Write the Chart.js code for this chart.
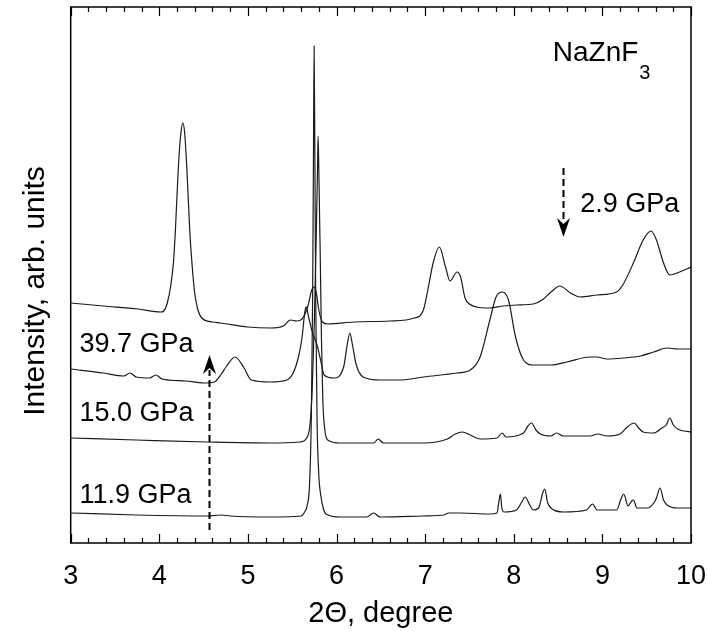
<!DOCTYPE html>
<html>
<head>
<meta charset="utf-8">
<script src="https://cdn.jsdelivr.net/npm/chart.js@4"></script>
<style>
  html, body { margin: 0; padding: 0; background: #fff; }
  canvas { display: block; }
</style>
</head>
<body>
<canvas id="xrd-chart" width="707" height="631"></canvas>
<script>
// 2.9 GPa (top pattern)
const theta29 = [3.00, 3.37, 3.76, 4.02, 4.05, 4.09, 4.13, 4.16, 4.18, 4.215, 4.245, 4.265, 4.285, 4.31, 4.345, 4.37, 4.395, 4.43, 4.48, 4.60,
  4.69, 5.00, 5.26, 5.40, 5.48, 5.55, 5.62, 5.68, 5.72, 5.745, 5.77, 5.80, 5.84, 5.90, 6.20, 6.60, 6.88, 6.98, 7.03, 7.09,
  7.16, 7.23, 7.28, 7.36, 7.40, 7.45, 7.50, 7.58, 7.73, 7.88, 8.03, 8.22, 8.32, 8.42, 8.52, 8.64, 8.75, 8.94, 9.16, 9.23,
  9.35, 9.46, 9.55, 9.61, 9.69, 9.76, 9.87, 10.0];
const int29 = [240, 237, 234, 231, 232, 240, 258, 281, 310, 376, 411, 420, 411, 376, 310, 278, 253, 235, 225, 221,
  220, 216, 215, 217, 223, 222, 225, 238, 253, 256, 251, 233, 221, 219, 221, 222, 225, 233, 253, 280,
  296, 276, 262, 271, 266, 245, 239, 236, 235, 237, 238, 239, 243, 251, 257, 250, 246, 248, 251, 258,
  280, 303, 312, 303, 280, 268, 271, 276];

// 39.7 GPa
const theta397 = [3.00, 3.37, 3.60, 3.67, 3.74, 3.89, 3.96, 4.03, 4.30, 4.50, 4.62, 4.70, 4.76, 4.855, 4.95, 5.04, 5.25, 5.44, 5.51, 5.57,
  5.61, 5.645, 5.66, 5.68, 5.72, 5.78, 5.82, 5.86, 5.97, 6.08, 6.12, 6.15, 6.18, 6.22, 6.30, 6.49, 6.72, 6.98, 7.36, 7.51,
  7.62, 7.73, 7.80, 7.87, 7.94, 8.02, 8.11, 8.22, 8.42, 8.60, 8.86, 8.94, 9.05, 9.24, 9.43, 9.58, 9.73, 9.85, 10.0];
const int397 = [174, 170, 167, 170, 166, 165, 168, 164, 162, 160, 161, 169, 177, 186, 176, 163, 161, 163, 170, 186,
  205, 233, 236, 228, 213, 198, 183, 168, 165, 176, 198, 210, 198, 179, 166, 163, 163, 166, 170, 173,
  186, 223, 246, 251, 243, 206, 183, 178, 178, 181, 186, 186, 184, 185, 187, 191, 195, 194, 194];

// 15.0 GPa
const theta150 = [3.00, 3.74, 4.54, 5.25, 5.59, 5.67, 5.70, 5.725, 5.75, 5.77, 5.785, 5.792, 5.80, 5.815, 5.83, 5.845, 5.865, 5.90, 6.04, 6.42,
  6.47, 6.53, 6.98, 7.25, 7.34, 7.42, 7.51, 7.62, 7.81, 7.87, 7.91, 8.11, 8.16, 8.20, 8.25, 8.30, 8.42, 8.48, 8.56, 8.86,
  8.95, 9.05, 9.20, 9.28, 9.36, 9.41, 9.46, 9.58, 9.67, 9.72, 9.76, 9.80, 9.85, 9.92, 10.0];
const int150 = [105, 103, 101, 100, 101, 106, 118, 153, 223, 303, 373, 407, 373, 293, 203, 143, 115, 103, 100, 100,
  104, 100, 100, 104, 109, 111, 108, 104, 105, 110, 106, 110, 117, 120, 113, 109, 107, 110, 107, 107,
  109, 107, 109, 116, 120, 115, 111, 110, 115, 118, 125, 118, 114, 112, 111];

// 11.9 GPa (bottom pattern)
const theta119 = [3.00, 3.74, 4.54, 4.70, 4.80, 5.25, 5.60, 5.64, 5.67, 5.695, 5.715, 5.73, 5.74, 5.747, 5.755, 5.765, 5.78, 5.80, 5.825, 5.85,
  5.88, 6.04, 6.34, 6.42, 6.49, 6.98, 7.21, 7.27, 7.40, 7.73, 7.81, 7.835, 7.85, 7.865, 7.89, 8.03, 8.09, 8.13, 8.18, 8.22,
  8.28, 8.33, 8.35, 8.38, 8.42, 8.56, 8.82, 8.89, 8.94, 9.16, 9.21, 9.24, 9.29, 9.33, 9.35, 9.39, 9.51, 9.58, 9.61, 9.65,
  9.69, 9.73, 9.85, 10.0];
const int119 = [30, 28, 27, 28, 27, 26, 27, 31, 38, 58, 123, 243, 393, 497, 393, 243, 123, 68, 46, 35,
  29, 26, 26, 30, 26, 27, 28, 30, 30, 29, 30, 43, 49, 35, 31, 33, 41, 46, 38, 33,
  35, 51, 54, 41, 35, 31, 33, 39, 33, 33, 44, 49, 37, 42, 43, 35, 35, 40, 45, 55,
  43, 38, 35, 35];

const xTicks = [3, 4, 5, 6, 7, 8, 9, 10];
const FONT = "Arial, 'Liberation Sans', sans-serif";

function toPoints(xs, ys) {
  return xs.map((v, i) => ({ x: v, y: ys[i] }));
}

function makeSet(name, xs, ys) {
  return {
    label: name,
    data: toPoints(xs, ys),
    borderColor: "#1a1a1a",
    borderWidth: 1.2,
    pointRadius: 0,
    fill: false,
    cubicInterpolationMode: "monotone",
  };
}

function drawArrow(ctx, px, yFrom, yTip) {
  const dir = yTip < yFrom ? -1 : 1;
  const headLen = 19;
  const cx = Math.round(px) + 0.5;
  ctx.save();
  ctx.strokeStyle = "#000";
  ctx.lineWidth = 2;
  ctx.setLineDash([7, 4]);
  ctx.beginPath();
  ctx.moveTo(cx, yFrom);
  ctx.lineTo(cx, yTip - dir * (headLen - 4));
  ctx.stroke();
  ctx.setLineDash([]);
  ctx.beginPath();
  ctx.moveTo(cx, yTip);
  ctx.lineTo(cx - 6.5, yTip - dir * headLen);
  ctx.lineTo(cx, yTip - dir * (headLen - 6));
  ctx.lineTo(cx + 6.5, yTip - dir * headLen);
  ctx.closePath();
  ctx.fill();
  ctx.restore();
}

// frame, inward ticks, y title, labels and dashed arrows
const decorations = {
  id: "decorations",
  afterDraw(chart) {
    const { ctx, chartArea: a } = chart;
    const x = chart.scales.x;
    const y = chart.scales.y;
    ctx.save();
    ctx.strokeStyle = "#000";
    ctx.lineWidth = 1.5;
    ctx.strokeRect(a.left, a.top, a.right - a.left, a.bottom - a.top);

    ctx.lineWidth = 1.2;
    for (let i = 0; i <= 35; i++) {
      const px = Math.round(x.getPixelForValue(3 + i * 0.2)) + 0.5;
      const len = i % 5 === 0 ? 9 : 5;
      ctx.beginPath();
      ctx.moveTo(px, a.bottom);
      ctx.lineTo(px, a.bottom - len);
      ctx.moveTo(px, a.top);
      ctx.lineTo(px, a.top + len);
      ctx.stroke();
    }

    ctx.fillStyle = "#000";

    // y axis title
    ctx.save();
    ctx.translate(44, 291);
    ctx.rotate(-Math.PI / 2);
    ctx.textAlign = "center";
    ctx.textBaseline = "alphabetic";
    ctx.font = "30px " + FONT;
    ctx.fillText("Intensity, arb. units", 0, 0);
    ctx.restore();

    ctx.textBaseline = "middle";
    ctx.textAlign = "left";
    ctx.font = "27px " + FONT;
    ctx.fillText("39.7 GPa", x.getPixelForValue(3.1), y.getPixelForValue(198));
    ctx.fillText("15.0 GPa", x.getPixelForValue(3.1), y.getPixelForValue(129));
    ctx.fillText("11.9 GPa", x.getPixelForValue(3.1), y.getPixelForValue(47));
    ctx.fillText("2.9 GPa", x.getPixelForValue(8.75), y.getPixelForValue(338));
    ctx.font = "28px " + FONT;
    const nx = x.getPixelForValue(8.44);
    ctx.fillText("NaZnF", nx, y.getPixelForValue(490));
    const w = ctx.measureText("NaZnF").width;
    ctx.font = "20px " + FONT;
    ctx.fillText("3", nx + w + 1, y.getPixelForValue(470));

    drawArrow(ctx, x.getPixelForValue(4.565), y.getPixelForValue(13), y.getPixelForValue(188));
    drawArrow(ctx, x.getPixelForValue(8.55), y.getPixelForValue(375), y.getPixelForValue(306));
    ctx.restore();
  },
};

const ctx = document.getElementById("xrd-chart").getContext("2d");

new Chart(ctx, {
  type: "line",
  data: {
    datasets: [
      makeSet("2.9 GPa", theta29, int29),
      makeSet("39.7 GPa", theta397, int397),
      makeSet("15.0 GPa", theta150, int150),
      makeSet("11.9 GPa", theta119, int119),
    ],
  },
  options: {
    responsive: false,
    animation: false,
    layout: { padding: { top: 7, right: 16, left: 0, bottom: 0 } },
    plugins: {
      legend: { display: false },
      tooltip: { enabled: false },
    },
    scales: {
      x: {
        type: "linear",
        min: 3,
        max: 10,
        afterBuildTicks: (scale) => {
          scale.ticks = xTicks.map((v) => ({ value: v }));
        },
        afterFit: (scale) => {
          scale.height = 88;
          scale.paddingLeft = 0;
          scale.paddingRight = 0;
        },
        ticks: {
          color: "#000",
          padding: 17,
          maxRotation: 0,
          font: { family: FONT, size: 27 },
        },
        grid: { display: false, drawTicks: false },
        border: { display: false },
        title: {
          display: true,
          text: "2\u0398, degree",
          color: "#000",
          padding: { top: 0, bottom: 0 },
          font: { family: FONT, size: 29 },
        },
      },
      y: {
        min: 0,
        max: 536,
        afterFit: (scale) => {
          scale.width = 70.7;
        },
        ticks: { display: false },
        grid: { display: false, drawTicks: false },
        border: { display: false },
        title: { display: false },
      },
    },
  },
  plugins: [decorations],
});
</script>
</body>
</html>
